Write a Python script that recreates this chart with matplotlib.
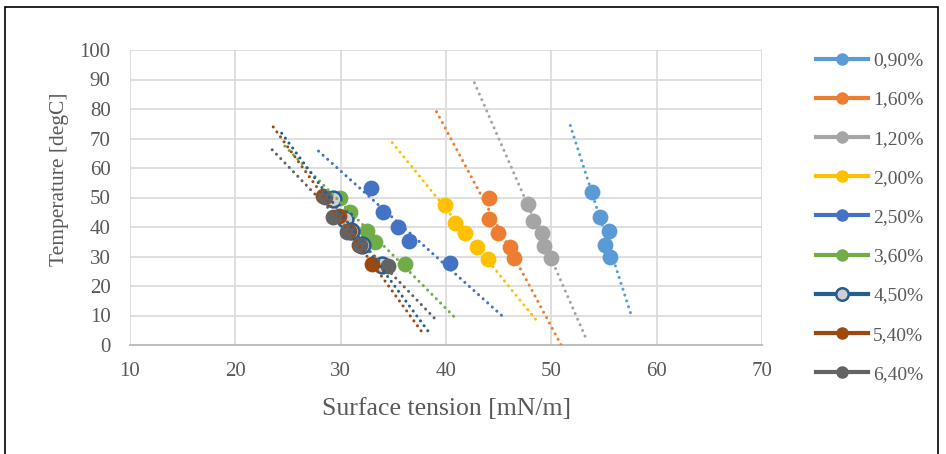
import numpy as np
import matplotlib.pyplot as plt
from matplotlib.lines import Line2D
from matplotlib.patches import Rectangle

# series labels (concentration) and colours
labels = ['0,90%', '1,60%', '1,20%', '2,00%', '2,50%', '3,60%', '4,50%', '5,40%', '6,40%']
colors = ['#5B9BD5', '#ED7D31', '#A5A5A5', '#FFC000', '#4472C4',
          '#70AD47', '#255E91', '#9E480E', '#636363']
faces = ['#5B9BD5', '#ED7D31', '#A5A5A5', '#FFC000', '#4472C4',
         '#70AD47', '#D0D0D0', '#9E480E', '#636363']

# surface tension [mN/m]
tension = [
    [53.9, 54.6, 55.5, 55.1, 55.6],
    [44.1, 44.1, 44.9, 46.1, 46.5],
    [47.8, 48.3, 49.1, 49.3, 50.0],
    [39.9, 40.9, 41.8, 42.9, 44.0],
    [32.9, 34.0, 35.4, 36.5, 40.4],
    [29.9, 30.9, 32.5, 33.3, 36.1],
    [29.3, 30.4, 31.0, 32.0, 33.9],
    [28.3, 29.8, 30.8, 31.7, 33.0],
    [28.5, 29.3, 30.6, 31.8, 34.5],
]
# temperature [degC]
temperature = [
    [51.8, 43.5, 38.7, 33.8, 29.8],
    [50.0, 42.6, 38.1, 33.3, 29.5],
    [47.8, 42.1, 37.9, 33.6, 29.5],
    [47.5, 41.3, 37.9, 33.1, 29.1],
    [53.2, 45.0, 40.1, 35.4, 27.7],
    [49.7, 45.2, 38.7, 34.9, 27.5],
    [49.5, 42.8, 38.5, 34.0, 27.1],
    [50.5, 43.8, 38.6, 33.8, 27.6],
    [50.3, 43.5, 38.4, 33.9, 26.9],
]
# x extent of each linear trendline (forecast backward / forward)
trend_lo = [51.8, 39.1, 42.7, 34.9, 27.9, 24.7, 24.4, 23.6, 23.5]
trend_hi = [57.65, 51.2, 53.3, 48.8, 45.4, 41.1, 38.4, 37.7, 39.1]

plt.rcParams['font.family'] = ['Liberation Serif', 'DejaVu Serif']

fig = plt.figure(figsize=(9.46, 4.54), dpi=100)
ax = fig.add_axes([130/946, 109/454, 632/946, 295/454])

for i in range(len(labels)):
    ax.scatter(tension[i], temperature[i], s=130, color=faces[i],
               edgecolors=colors[i], linewidths=1.8 if i == 6 else 0, zorder=3 + i * 0.01)

for i in range(len(labels)):
    k, b = np.polyfit(tension[i], temperature[i], 1)
    xs = np.array([trend_lo[i], trend_hi[i]])
    ax.plot(xs, k * xs + b, color=colors[i], lw=2.2,
            linestyle=(0, (0.01, 2.0)), dash_capstyle='round', zorder=5)

ax.set_xlim(10, 70)
ax.set_ylim(0, 100)
ax.set_xticks(range(10, 71, 10))
ax.set_yticks(range(0, 101, 10))
ax.grid(True, color='#D9D9D9', lw=1.2)
ax.set_axisbelow(True)
for s in ['top', 'right', 'left']:
    ax.spines[s].set_visible(False)
ax.spines['bottom'].set_color('#BFBFBF')
ax.spines['bottom'].set_linewidth(1.5)
ax.tick_params(length=0, labelsize=15, labelcolor='#595959')
ax.tick_params(axis='y', pad=14)
ax.tick_params(axis='x', pad=12)
ax.set_xlabel('Surface tension [mN/m]', fontsize=18.5, color='#595959')
ax.set_ylabel('Temperature [degC]', fontsize=15.5, color='#595959')
ax.xaxis.set_label_coords(0.5, -0.18)
ax.yaxis.set_label_coords(-0.097, 0.563)

handles = [Line2D([0], [0], color=colors[i], lw=3, marker='o', markersize=9,
                  markerfacecolor=faces[i], markeredgecolor=colors[i],
                  markeredgewidth=1.8 if i == 6 else 0)
           for i in range(len(labels))]
fig.legend(handles, labels, loc='upper left', bbox_to_anchor=(808/946, 1 - 44/454),
           frameon=False, fontsize=14, labelcolor='#595959', handlelength=2.7,
           handletextpad=0.25, labelspacing=1.11, borderaxespad=0)

fig.patches.append(Rectangle((5/946, -0.05), 933/946, 1.05 - 7/454, transform=fig.transFigure,
                             fill=False, ec='black', lw=1.2))

fig.savefig('out.png', dpi=100)
